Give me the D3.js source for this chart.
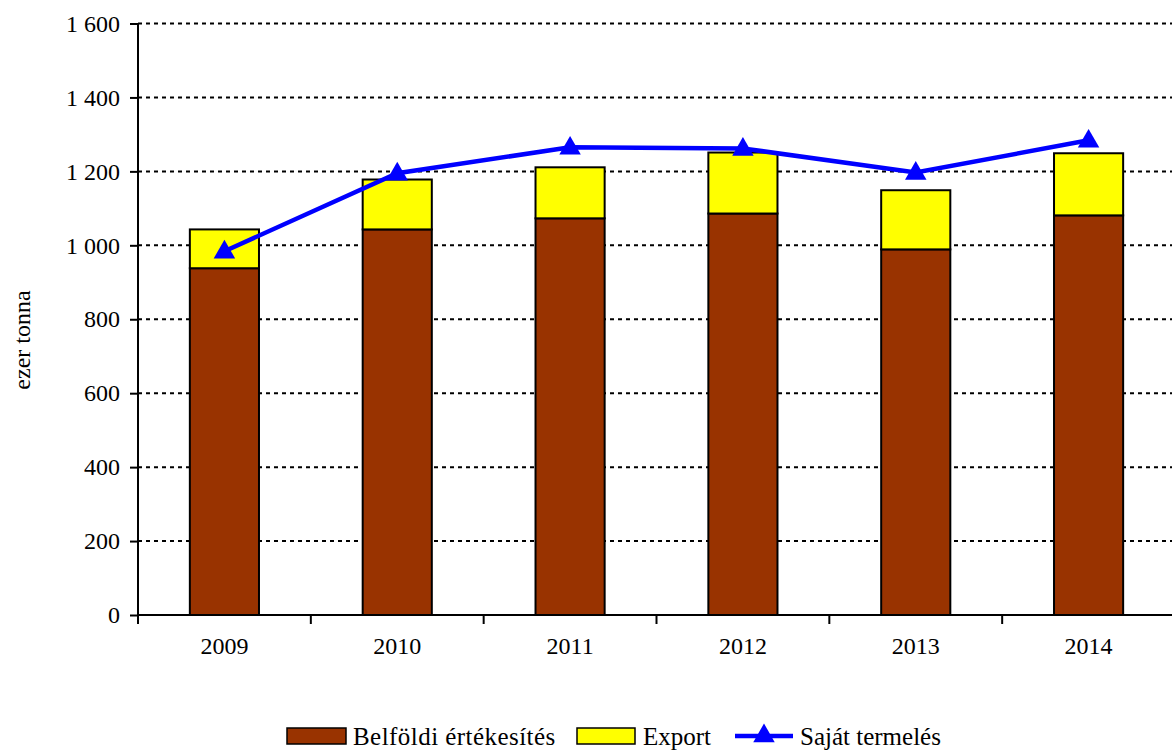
<!DOCTYPE html>
<html>
<head>
<meta charset="utf-8">
<script src="https://cdn.jsdelivr.net/npm/d3@7"></script>
<style>
html,body{margin:0;padding:0;background:#fff;}
svg{display:block;}
svg text{font-family:"Times New Roman","Liberation Serif","DejaVu Serif",serif !important;}
</style>
</head>
<body>
<svg id="chart" width="1172" height="751"></svg>
<script>
const years = ["2009","2010","2011","2012","2013","2014"];
const domestic = [938, 1043, 1073, 1086, 989, 1081];
const exportVals = [105, 135, 138, 165, 160, 168];
const production = [984, 1195, 1265, 1262, 1197, 1284];
const yTicks = [0,200,400,600,800,1000,1200,1400,1600];
const seriesNames = ["Belföldi értékesítés","Export","Saját termelés"];

(function(){
const svg = d3.select("#chart");
const pLeft = 138, pRight = 1175, pTop = 23.5, pBottom = 615;
const FS = 24;

const xOuter = d3.scaleBand().domain(years).range([pLeft, pRight]).padding(0);
const y = d3.scaleLinear().domain([0,1600]).range([pBottom, pTop]);

// gridlines
svg.append("g").selectAll("line").data(yTicks.filter(t=>t>0)).join("line")
  .attr("x1", pLeft).attr("x2", 1172)
  .attr("y1", d=>y(d)).attr("y2", d=>y(d))
  .attr("stroke","#000").attr("stroke-width",2).attr("stroke-dasharray","4,4");

// bars
const stack = years.map((yr,i)=>({yr, d:domestic[i], e:exportVals[i]}));
const bw = xOuter.bandwidth()*0.4;
const bx = d => xOuter(d.yr) + xOuter.bandwidth()/2 - bw/2;
svg.append("g").selectAll("rect").data(stack).join("rect")
  .attr("x", bx).attr("width", bw)
  .attr("y", d=>y(d.d)).attr("height", d=>y(0)-y(d.d))
  .attr("fill","#993300").attr("stroke","#000").attr("stroke-width",2);
svg.append("g").selectAll("rect").data(stack).join("rect")
  .attr("x", bx).attr("width", bw)
  .attr("y", d=>y(d.d+d.e)).attr("height", d=>y(d.d)-y(d.d+d.e))
  .attr("fill","#ffff00").attr("stroke","#000").attr("stroke-width",2);

// axes
const yAxis = d3.axisLeft(y).tickValues(yTicks).tickSize(8).tickPadding(4)
  .tickFormat(d => d3.format(",")(d).replace(/,/g," "));
const gy = svg.append("g").attr("transform",`translate(${pLeft},0)`).call(yAxis);
gy.attr("font-size", FS).attr("font-family", null);
gy.select(".domain").attr("stroke","#000").attr("stroke-width",2).attr("d",`M0,${pTop}V${pBottom}`);
gy.selectAll(".tick line").attr("stroke","#000").attr("stroke-width",2);
gy.selectAll(".tick text").attr("x",-18).attr("fill","#000");

const xAxis = d3.axisBottom(xOuter).tickSize(0).tickPadding(22);
const gx = svg.append("g").attr("transform",`translate(0,${pBottom})`).call(xAxis);
gx.attr("font-size", FS).attr("font-family", null);
gx.select(".domain").attr("stroke","#000").attr("stroke-width",2).attr("d",`M${pLeft},0H1172`);
gx.selectAll(".tick text").attr("fill","#000");
// category boundary ticks
svg.append("g").selectAll("line").data(years).join("line")
  .attr("x1", d=>xOuter(d)).attr("x2", d=>xOuter(d))
  .attr("y1", pBottom).attr("y2", pBottom+9)
  .attr("stroke","#000").attr("stroke-width",2);

// line
const cx = yr => xOuter(yr) + xOuter.bandwidth()/2;
const line = d3.line().x((d,i)=>cx(years[i])).y(d=>y(d));
svg.append("path").datum(production).attr("d", line)
  .attr("fill","none").attr("stroke","#0000ff").attr("stroke-width",4.5);
const tri = d3.symbol().type(d3.symbolTriangle).size(200);
svg.append("g").selectAll("path").data(production).join("path")
  .attr("transform",(d,i)=>`translate(${cx(years[i])},${y(d)+1})`)
  .attr("d", tri()).attr("fill","#0000ff");

// y title
svg.append("text").attr("transform","translate(30,340) rotate(-90)")
  .attr("text-anchor","middle").attr("font-size",FS).text("ezer tonna");

// legend
const lg = svg.append("g").attr("font-size",25);
lg.append("rect").attr("x",287).attr("y",728).attr("width",59).attr("height",16)
  .attr("fill","#993300").attr("stroke","#000").attr("stroke-width",1.5);
lg.append("text").attr("x",353).attr("y",745).attr("letter-spacing",0.45).text(seriesNames[0]);
lg.append("rect").attr("x",577).attr("y",728).attr("width",58).attr("height",16)
  .attr("fill","#ffff00").attr("stroke","#000").attr("stroke-width",1.5);
lg.append("text").attr("x",643).attr("y",745).text(seriesNames[1]);
lg.append("line").attr("x1",735).attr("x2",793).attr("y1",736).attr("y2",736)
  .attr("stroke","#0000ff").attr("stroke-width",4.5);
lg.append("path").attr("transform","translate(764,736)").attr("d",tri()).attr("fill","#0000ff");
lg.append("text").attr("x",800).attr("y",745).text(seriesNames[2]);
})();
</script>
</body>
</html>
